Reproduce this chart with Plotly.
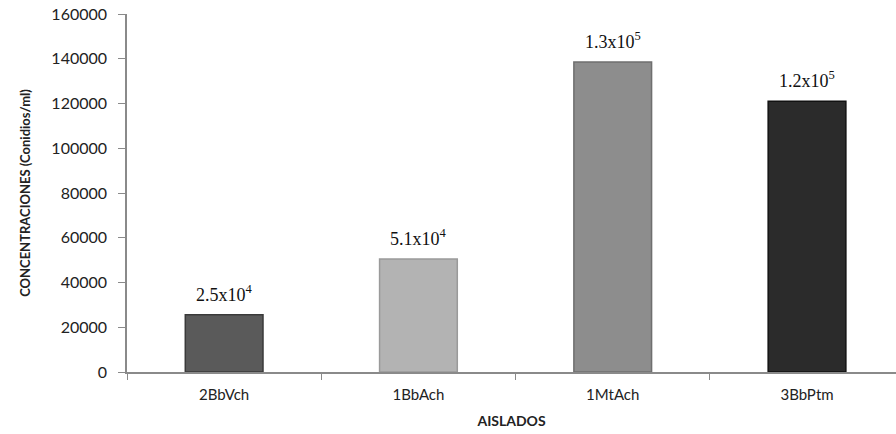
import plotly.graph_objects as go

# Conidial concentration per isolate
aislados = ["2BbVch", "1BbAch", "1MtAch", "3BbPtm"]
concentraciones = [25600, 50500, 138500, 121000]
etiquetas = ["2.5x10<sup>4</sup>", "5.1x10<sup>4</sup>", "1.3x10<sup>5</sup>", "1.2x10<sup>5</sup>"]
colores = ["#5a5a5a", "#b3b3b3", "#8d8d8d", "#2b2b2b"]
bordes = ["#3a3a3a", "#9a9a9a", "#6f6f6f", "#111111"]
y_ticks = [0, 20000, 40000, 60000, 80000, 100000, 120000, 140000, 160000]

fig = go.Figure()
fig.add_trace(go.Bar(
    x=aislados,
    y=concentraciones,
    width=0.4,
    marker=dict(color=colores, line=dict(color=bordes, width=1.5)),
    showlegend=False,
))

for cat, val, txt in zip(aislados, concentraciones, etiquetas):
    fig.add_annotation(
        x=cat, y=val, text=txt, showarrow=False,
        yanchor="bottom", yshift=8,
        font=dict(family="Liberation Serif", size=18, color="#111111"),
    )

fig.update_layout(
    width=896, height=434,
    margin=dict(l=127, r=0, t=14, b=62),
    paper_bgcolor="white", plot_bgcolor="white",
    font=dict(family="Lato", size=15, color="#222222"),
    bargap=0.6,
)

fig.update_xaxes(
    range=[-0.5, 3.458],
    showline=True, linecolor="#8a8a8a", linewidth=1.5,
    ticks="outside", tickson="boundaries", ticklen=6, tickcolor="#8a8a8a",
    showgrid=False,
    ticklabelstandoff=8,
    tickfont=dict(family="Lato", size=15, color="#222222"),
    title=dict(text="<b>AISLADOS</b>", font=dict(family="Lato", size=14, color="#222222"), standoff=14),
)

fig.update_yaxes(
    range=[0, 160000],
    tickvals=y_ticks,
    ticktext=[str(v) for v in y_ticks],
    showline=True, linecolor="#8a8a8a", linewidth=1.5,
    ticks="outside", ticklen=7, tickcolor="#8a8a8a",
    showgrid=False, zeroline=False,
    ticklabelstandoff=8,
    tickfont=dict(family="Lato", size=16, color="#222222"),
    title=dict(text="<b>CONCENTRACIONES (Conidios/ml)</b>", font=dict(family="Lato", size=13, color="#222222"), standoff=18),
)

fig.write_html("out.html")
